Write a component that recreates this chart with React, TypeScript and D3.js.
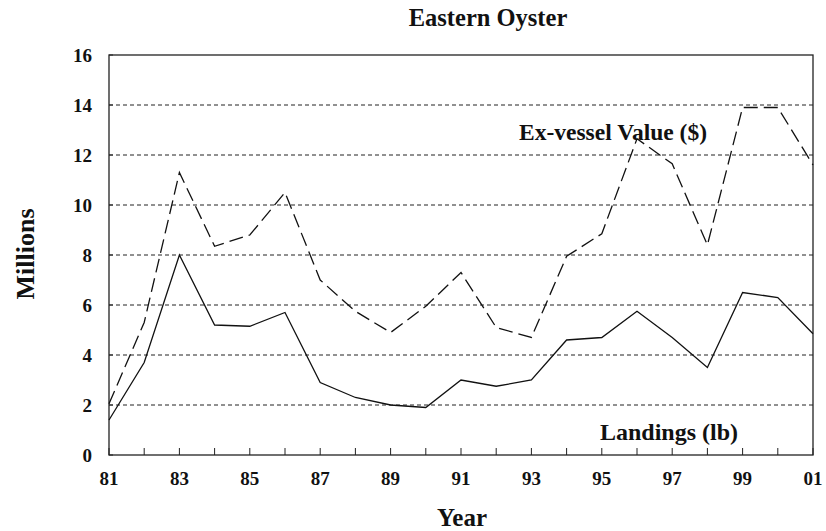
import React from "react";
import * as d3 from "d3";

const years = [81, 82, 83, 84, 85, 86, 87, 88, 89, 90, 91, 92, 93, 94, 95, 96, 97, 98, 99, 100, 101];
const landings = [1.4, 3.7, 8.0, 5.2, 5.15, 5.7, 2.9, 2.3, 2.0, 1.9, 3.0, 2.75, 3.0, 4.6, 4.7, 5.75, 4.7, 3.5, 6.5, 6.3, 4.85];
const exVessel = [2.05, 5.3, 11.3, 8.35, 8.8, 10.5, 7.0, 5.75, 4.9, 5.95, 7.3, 5.1, 4.7, 7.95, 8.85, 12.65, 11.65, 8.4, 13.9, 13.9, 11.6];
const yTicks = [0, 2, 4, 6, 8, 10, 12, 14, 16];
const xTickLabels = [81, 83, 85, 87, 89, 91, 93, 95, 97, 99, 101];

const W = 826;
const H = 531;
const m = { left: 109, right: 13, top: 55, bottom: 76 };

export default function App() {
  const x = d3.scaleLinear().domain([81, 101]).range([m.left, W - m.right]);
  const y = d3.scaleLinear().domain([0, 16]).range([H - m.bottom, m.top]);
  const line = d3
    .line<number>()
    .x((_, i) => x(years[i]))
    .y((d) => y(d));
  const font = "'Liberation Serif', 'Times New Roman', serif";
  const fmtYear = (v: number) => String(v % 100).padStart(2, "0");

  return (
    <svg
      width={W}
      height={H}
      style={{ position: "absolute", left: 0, top: 0, background: "#fff" }}
      fontFamily={font}
      fontWeight="bold"
    >
      <text x={488} y={26} fontSize={24.5} textAnchor="middle" fill="#111">
        Eastern Oyster
      </text>
      {/* grid */}
      {yTicks
        .filter((t) => t > 0 && t < 16)
        .map((t) => (
          <line
            key={t}
            x1={x(81)}
            x2={x(101)}
            y1={y(t)}
            y2={y(t)}
            stroke="#222"
            strokeWidth={1}
            strokeDasharray="4,3"
          />
        ))}
      {/* frame */}
      <rect
        x={x(81)}
        y={y(16)}
        width={x(101) - x(81)}
        height={y(0) - y(16)}
        fill="none"
        stroke="#222"
        strokeWidth={1.3}
      />
      {/* y ticks */}
      {yTicks.map((t) => (
        <g key={t}>
          <line x1={x(81)} x2={x(81) + 4} y1={y(t)} y2={y(t)} stroke="#222" />
          <text x={92} y={y(t) + 6.5} fontSize={19} textAnchor="end" fill="#111">
            {t}
          </text>
        </g>
      ))}
      {/* x ticks */}
      {years.map((yr) => (
        <line key={yr} x1={x(yr)} x2={x(yr)} y1={y(0)} y2={y(0) - 7} stroke="#222" />
      ))}
      {xTickLabels.map((yr) => (
        <text key={yr} x={x(yr)} y={485} fontSize={19} textAnchor="middle" fill="#111">
          {fmtYear(yr)}
        </text>
      ))}
      {/* series */}
      <path d={line(exVessel) ?? ""} fill="none" stroke="#111" strokeWidth={1.3} strokeDasharray="14,6" />
      <path d={line(landings) ?? ""} fill="none" stroke="#111" strokeWidth={1.3} />
      {/* series labels */}
      <text x={519} y={140} fontSize={23.5} fill="#111">
        Ex-vessel Value ($)
      </text>
      <text x={600} y={440} fontSize={24} fill="#111">
        Landings (lb)
      </text>
      {/* axis titles */}
      <text x={462} y={526} fontSize={25} textAnchor="middle" fill="#111">
        Year
      </text>
      <text
        transform={`translate(34,254) rotate(-90)`}
        fontSize={26}
        textAnchor="middle"
        fill="#111"
      >
        Millions
      </text>
    </svg>
  );
}
